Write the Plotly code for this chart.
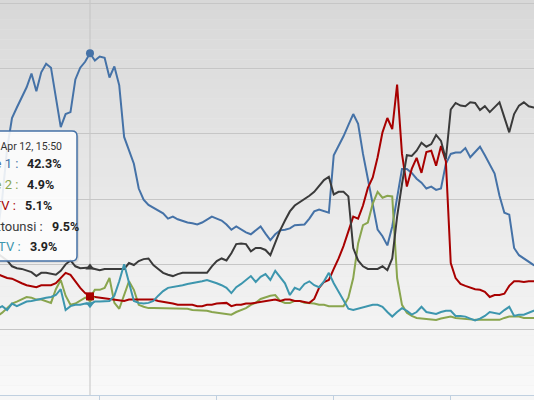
import plotly.graph_objects as go
import pandas as pd

# 5-minute audience share (%) on Apr 12, 2012, from 14:15 to 23:30
times = pd.date_range("2012-04-12 14:15", periods=112, freq="5min")

series_names = ["Tunisie 1", "Tunisie 2", "Hannibal TV", "Ettounsi", "Nessma TV"]

tunisie1 = [14.7, 20.1, 27.7, 32.4, 34.0, 35.6, 37.1, 39.2, 36.5, 39.4,
            40.7, 40.1, 35.7, 31.0, 33.0, 33.3, 38.3, 40.1, 41.0, 42.3,
            41.2, 41.8, 41.6, 38.6, 40.3, 37.4, 29.5, 27.4, 25.4, 21.6,
            19.9, 19.1, 18.7, 18.2, 17.8, 17.0, 17.3, 16.9, 16.6, 16.4,
            16.3, 16.1, 16.4, 16.9, 17.3, 17.0, 16.7, 16.1, 15.3, 15.8,
            15.3, 14.9, 14.6, 15.2, 15.8, 14.7, 13.7, 14.6, 15.2, 15.3,
            15.5, 16.0, 16.0, 16.1, 17.0, 18.1, 18.4, 18.1, 17.9, 26.7,
            28.1, 29.6, 31.3, 33.0, 31.5, 26.9, 23.1, 19.3, 15.3, 14.3,
            12.9, 15.8, 20.1, 24.6, 24.6, 24.0, 23.1, 22.5, 21.6, 21.9,
            21.4, 21.6, 25.4, 26.9, 27.1, 27.1, 27.8, 26.4, 27.2, 28.0,
            26.7, 25.4, 23.9, 20.5, 17.9, 17.6, 12.5, 11.4, 10.9, 10.3,
            9.9, 9.7]

tunisie2 = [2.1, 2.6, 3.3, 4.0, 4.3, 4.6, 5.0, 4.9, 4.6, 4.6,
            4.3, 4.1, 6.2, 7.6, 5.2, 3.8, 4.0, 4.4, 4.9, 4.9,
            6.1, 6.1, 6.4, 7.9, 4.1, 3.2, 5.3, 7.4, 6.1, 3.8,
            3.5, 3.3, 3.3, 3.3, 3.3, 3.3, 3.3, 3.3, 3.2, 3.2,
            3.0, 3.0, 2.9, 2.9, 2.7, 2.6, 2.6, 2.4, 2.3, 2.7,
            3.0, 3.3, 3.8, 4.1, 4.7, 5.0, 5.2, 5.3, 4.4, 4.1,
            4.1, 4.4, 4.4, 4.1, 4.1, 4.0, 3.8, 3.8, 3.6, 3.6,
            3.6, 3.6, 4.9, 7.9, 13.2, 16.0, 16.4, 19.3, 21.1, 20.2,
            20.5, 20.4, 7.9, 3.8, 2.6, 2.1, 1.8, 1.7, 1.7, 1.5,
            1.5, 1.7, 1.8, 2.0, 1.8, 1.7, 1.7, 1.5, 1.5, 1.5,
            1.5, 1.5, 1.5, 1.5, 1.8, 2.0, 2.0, 2.0, 1.8, 1.8,
            1.8, 1.8]

hannibal = [8.5, 8.2, 7.9, 7.8, 7.4, 7.1, 6.8, 6.7, 6.5, 6.8,
            6.8, 6.8, 7.1, 7.9, 8.7, 8.4, 7.4, 6.4, 5.6, 5.1,
            5.0, 4.9, 4.7, 4.6, 4.6, 4.4, 4.4, 4.6, 4.6, 4.6,
            4.6, 4.6, 4.6, 4.4, 4.3, 4.1, 4.0, 3.8, 3.8, 3.8,
            3.8, 3.6, 3.6, 3.8, 3.8, 4.0, 4.0, 4.1, 3.6, 3.8,
            3.8, 4.0, 4.0, 4.1, 4.3, 4.4, 4.4, 4.6, 4.4, 4.6,
            4.6, 4.4, 4.4, 4.3, 4.1, 4.7, 6.4, 7.3, 7.6, 9.3,
            10.9, 12.8, 14.9, 17.3, 17.0, 19.0, 21.7, 23.3, 26.4, 30.2,
            32.4, 30.7, 37.5, 26.9, 21.9, 24.6, 26.3, 24.0, 27.2, 27.4,
            25.1, 28.1, 25.8, 10.2, 7.9, 7.0, 6.7, 6.4, 6.2, 6.1,
            5.8, 5.0, 5.3, 5.3, 5.5, 6.7, 7.4, 7.4, 7.3, 7.4,
            7.4, 7.4]

ettounsi = [11.7, 11.2, 10.6, 9.7, 9.4, 9.3, 9.1, 8.8, 8.2, 8.7,
            8.7, 8.5, 8.4, 9.0, 10.0, 10.6, 9.7, 9.4, 9.4, 9.5,
            9.3, 9.1, 9.3, 9.3, 9.4, 9.4, 9.3, 10.2, 9.9, 10.5,
            10.8, 10.9, 9.9, 9.3, 8.7, 8.4, 8.2, 8.5, 8.7, 8.7,
            8.7, 8.7, 8.7, 8.7, 9.7, 10.5, 10.9, 10.6, 11.7, 13.1,
            13.2, 13.1, 12.0, 12.5, 12.5, 12.2, 11.4, 13.4, 15.2, 16.7,
            18.1, 19.0, 19.5, 19.9, 20.5, 21.1, 22.0, 22.9, 23.4, 20.7,
            21.1, 21.1, 20.4, 12.5, 10.6, 9.7, 9.3, 9.3, 9.3, 9.7,
            9.1, 10.9, 17.3, 22.3, 26.7, 26.6, 27.4, 28.6, 28.0, 28.4,
            29.8, 28.9, 26.1, 33.7, 34.7, 34.3, 34.2, 34.8, 34.7, 33.6,
            34.2, 33.3, 34.0, 34.8, 32.5, 30.2, 33.0, 34.3, 34.8, 34.2,
            34.0, 34.0]

nessma = [3.2, 3.6, 3.0, 4.0, 3.6, 4.0, 4.3, 4.4, 4.6, 4.7,
          4.9, 5.0, 5.3, 6.2, 3.0, 3.6, 3.8, 3.8, 4.0, 3.9,
          4.3, 4.3, 4.4, 4.4, 5.2, 7.4, 10.0, 7.1, 4.4, 4.1,
          4.0, 4.1, 4.4, 5.2, 5.9, 6.4, 6.5, 6.7, 6.8, 7.0,
          7.1, 7.3, 7.4, 7.6, 7.4, 7.1, 6.8, 6.4, 5.6, 6.5,
          7.0, 7.6, 8.2, 7.3, 8.1, 8.5, 7.6, 9.0, 8.1, 7.1,
          5.3, 6.4, 6.1, 7.0, 7.4, 6.8, 6.5, 7.4, 8.7, 7.1,
          5.8, 4.4, 3.2, 3.0, 3.2, 3.5, 3.6, 3.8, 3.8, 3.5,
          2.7, 2.0, 2.7, 3.3, 2.9, 2.3, 2.7, 3.5, 2.7, 2.6,
          2.4, 2.7, 2.9, 2.9, 2.1, 2.1, 2.0, 1.7, 1.4, 1.7,
          2.1, 2.7, 2.6, 2.4, 3.0, 3.5, 2.1, 2.3, 2.3, 2.6,
          2.9, 3.0]

all_series = [tunisie1, tunisie2, hannibal, ettounsi, nessma]
colors = ["#4572A7", "#89A54E", "#A80000", "#3A3A3A", "#3D96AE"]
symbols = ["circle", "diamond", "square", "triangle-up", "triangle-down"]

hover_idx = 19  # 15:50 point shown in the tooltip

W, H = 534, 400
PLOT_H = 398


def px(x):
    return x / W


def py(y):
    return 1 - y / PLOT_H


fig = go.Figure()

for name, vals, color in zip(series_names, all_series, colors):
    fig.add_trace(go.Scatter(
        x=times, y=vals, name=name, mode="lines",
        line=dict(color=color, width=2), hoverinfo="skip"
    ))

# hover markers
for name, vals, color, sym in zip(series_names, all_series, colors, symbols):
    fig.add_trace(go.Scatter(
        x=[times[hover_idx]], y=[vals[hover_idx]], mode="markers",
        marker=dict(symbol=sym, size=8, color=color), hoverinfo="skip"
    ))

shapes = []

# vertical gradient background, dark at top
n_bands = 40
for k in range(n_bands):
    g = round(249 - (249 - 216) * (k + 0.5) / n_bands)
    shapes.append(dict(
        type="rect", xref="paper", yref="paper",
        x0=0, x1=1, y0=k / n_bands, y1=(k + 1) / n_bands,
        fillcolor=f"rgb({g},{g},{g})", line=dict(width=0), layer="below"
    ))

# crosshair
shapes.append(dict(
    type="line", xref="x", yref="paper",
    x0=times[hover_idx], x1=times[hover_idx], y0=0, y1=1,
    line=dict(color="#C4C4C4", width=1), layer="between"
))

# tooltip box (left part runs off the picture)
left, right, top, bottom, r = -40, 77, 132, 263, 5


def box_path(l, rt, t, b, rad):
    return (f"M {px(l)},{py(t)} L {px(rt - rad)},{py(t)} "
            f"Q {px(rt)},{py(t)} {px(rt)},{py(t + rad)} "
            f"L {px(rt)},{py(b - rad)} "
            f"Q {px(rt)},{py(b)} {px(rt - rad)},{py(b)} "
            f"L {px(l)},{py(b)} Z")


shapes.append(dict(
    type="path", xref="paper", yref="paper",
    path=box_path(left + 2, right + 2, top + 2, bottom + 2, r),
    fillcolor="rgba(0,0,0,0.07)", line=dict(width=0), layer="above"
))
shapes.append(dict(
    type="path", xref="paper", yref="paper",
    path=box_path(left, right, top, bottom, r),
    fillcolor="rgba(255,255,255,0.88)",
    line=dict(color="#4572A7", width=1.5), layer="above"
))

annotations = [dict(
    xref="paper", yref="paper", x=px(64), y=py(148),
    xanchor="right", yanchor="middle", showarrow=False,
    text="Thursday, Apr 12, 15:50",
    font=dict(family="Roboto", size=10.5, color="#333333")
)]

row_y = [165, 186, 207, 228, 248]
colon_end = [20, 20, 18, 45, 23]
value_start = [25, 25, 23, 50, 28]

for name, vals, color, yy, ce, vs in zip(series_names, all_series, colors,
                                         row_y, colon_end, value_start):
    annotations.append(dict(
        xref="paper", yref="paper", x=px(ce), y=py(yy),
        xanchor="right", yanchor="middle", showarrow=False,
        text=f"{name} :", font=dict(family="Roboto", size=13, color=color)
    ))
    annotations.append(dict(
        xref="paper", yref="paper", x=px(vs), y=py(yy),
        xanchor="left", yanchor="middle", showarrow=False,
        text=f"<b>{vals[hover_idx]:.1f}%</b>",
        font=dict(family="Roboto", size=12.5, color="#222222")
    ))

fig.update_layout(
    width=W, height=H,
    margin=dict(l=0, r=0, t=0, b=H - PLOT_H, pad=0),
    paper_bgcolor="#F7F7F7",
    plot_bgcolor="#EAEAEA",
    showlegend=False,
    shapes=shapes,
    annotations=annotations,
    xaxis=dict(
        type="date",
        range=["2012-04-12 14:17:42", "2012-04-12 23:25:24"],
        showgrid=False, zeroline=False,
        showline=True, linecolor="#C0D0E0", linewidth=1,
        ticks="outside", ticklen=5, tickcolor="#C0D0E0",
        tick0="2012-04-12 00:00", dtick=7200000,
        showticklabels=False
    ),
    yaxis=dict(
        range=[-10, 50.46], tick0=0, dtick=10,
        showgrid=True, gridcolor="#C6C6C6", gridwidth=1,
        zeroline=False, showline=False, showticklabels=False
    ),
)

# the page's default body margin would shift the chart by 8px
fig.write_html("out.html",
               config={"displayModeBar": False},
               post_script="document.body.style.margin='0';"
                           "document.body.style.overflow='hidden';")
